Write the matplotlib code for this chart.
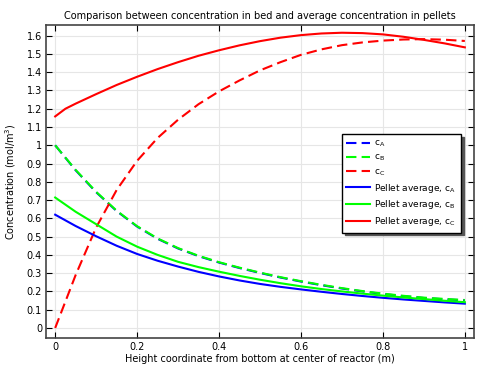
import matplotlib
matplotlib.use("Agg")
import matplotlib.pyplot as plt
from matplotlib.ticker import MultipleLocator, FuncFormatter

# height coordinate (m)
z = [0.0, 0.05, 0.1, 0.15, 0.2, 0.25, 0.3, 0.35, 0.4, 0.45, 0.5,
     0.55, 0.6, 0.65, 0.7, 0.75, 0.8, 0.85, 0.9, 0.95, 1.0]
z_pel = [0.0, 0.025, 0.05, 0.1, 0.15, 0.2, 0.25, 0.3, 0.35, 0.4, 0.45, 0.5,
         0.55, 0.6, 0.65, 0.7, 0.75, 0.8, 0.85, 0.9, 0.95, 1.0]

# bed concentrations
cA_bed = [1.0, 0.863, 0.743, 0.64, 0.555, 0.488, 0.435, 0.393, 0.358, 0.328, 0.301,
          0.276, 0.254, 0.234, 0.216, 0.2, 0.186, 0.174, 0.164, 0.157, 0.151]
cB_bed = [1.0, 0.865, 0.745, 0.642, 0.557, 0.49, 0.437, 0.395, 0.36, 0.33, 0.303,
          0.278, 0.256, 0.236, 0.218, 0.202, 0.188, 0.176, 0.166, 0.159, 0.153]
cC_bed = [0.0, 0.29, 0.55, 0.755, 0.915, 1.04, 1.14, 1.225, 1.295, 1.355, 1.41,
          1.455, 1.495, 1.525, 1.548, 1.563, 1.573, 1.579, 1.581, 1.578, 1.571]

# pellet averages
cA_pel = [0.62, 0.589, 0.558, 0.502, 0.45, 0.405, 0.368, 0.336, 0.307, 0.282, 0.26,
          0.241, 0.225, 0.211, 0.198, 0.186, 0.175, 0.165, 0.156, 0.148, 0.14, 0.133]
cB_pel = [0.714, 0.675, 0.636, 0.568, 0.5, 0.445, 0.4, 0.362, 0.333, 0.308, 0.285,
          0.264, 0.245, 0.228, 0.213, 0.2, 0.188, 0.177, 0.167, 0.158, 0.149, 0.141]
cC_pel = [1.158, 1.2, 1.228, 1.28, 1.33, 1.375, 1.417, 1.455, 1.49, 1.52, 1.547,
          1.57, 1.589, 1.603, 1.612, 1.616, 1.614, 1.607, 1.594, 1.577, 1.558, 1.536]

plt.rcParams['font.size'] = 7

fig = plt.figure(figsize=(4.86, 3.66), dpi=100)
ax = fig.add_axes([0.095, 0.0765, 0.88, 0.856])

dash = (5, 2.5)
ax.plot(z, cA_bed, color=(0, 0, 1), lw=1.5, dashes=dash, label=r'c$_\mathregular{A}$')
ax.plot(z, cB_bed, color=(0, 1, 0), lw=1.5, dashes=dash, label=r'c$_\mathregular{B}$')
ax.plot(z, cC_bed, color=(1, 0, 0), lw=1.5, dashes=dash, label=r'c$_\mathregular{C}$')
ax.plot(z_pel, cA_pel, color=(0, 0, 1), lw=1.5, label=r'Pellet average, c$_\mathregular{A}$')
ax.plot(z_pel, cB_pel, color=(0, 1, 0), lw=1.5, label=r'Pellet average, c$_\mathregular{B}$')
ax.plot(z_pel, cC_pel, color=(1, 0, 0), lw=1.5, label=r'Pellet average, c$_\mathregular{C}$')

ax.set_xlim(-0.022, 1.022)
ax.set_ylim(-0.055, 1.66)
ax.xaxis.set_major_locator(MultipleLocator(0.2))
ax.yaxis.set_major_locator(MultipleLocator(0.1))
fmt = FuncFormatter(lambda v, p: '%g' % round(v, 2))
ax.xaxis.set_major_formatter(fmt)
ax.yaxis.set_major_formatter(fmt)
ax.tick_params(direction='in', top=True, right=True, length=4, width=0.8, pad=3)
ax.grid(True, color='#e6e6e6', lw=0.8)
ax.set_axisbelow(True)
for s in ax.spines.values():
    s.set_color('#444444')
    s.set_linewidth(1.2)

ax.set_title('Comparison between concentration in bed and average concentration in pellets',
             fontsize=7, pad=4)
ax.set_xlabel('Height coordinate from bottom at center of reactor (m)', labelpad=1)
ax.set_ylabel(r'Concentration (mol/m$^\mathregular{3}$)', labelpad=6)

leg = ax.legend(loc='upper right', bbox_to_anchor=(0.98, 0.665), fancybox=False,
                shadow={'color': '#555555', 'alpha': 1}, framealpha=1, edgecolor='black',
                fontsize=6.5, handlelength=2.6, handletextpad=0.5, labelspacing=0.42,
                borderpad=0.5)
leg.get_frame().set_linewidth(1.0)

fig.savefig('out.png', dpi=100)
